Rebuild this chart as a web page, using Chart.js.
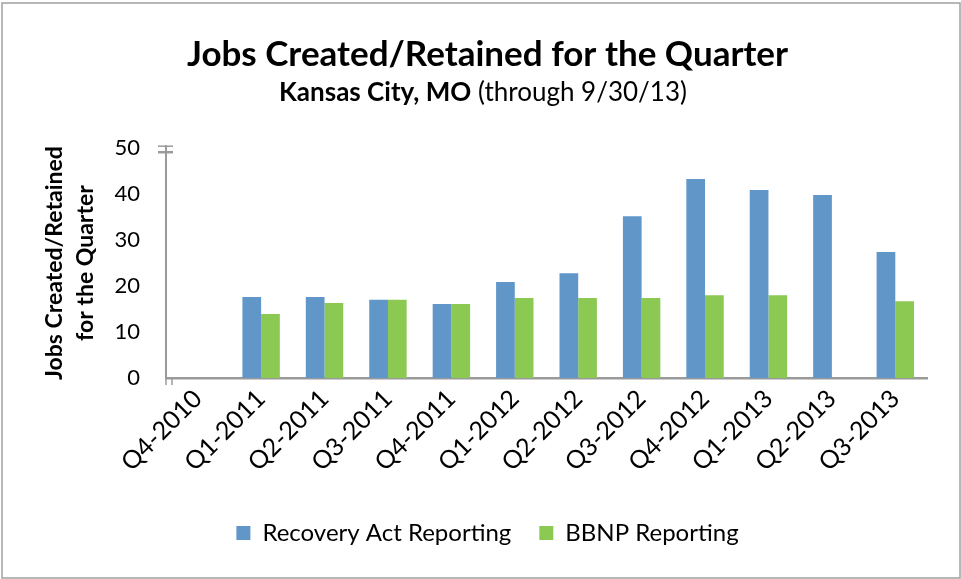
<!DOCTYPE html>
<html><head><meta charset="utf-8">
<script src="https://cdn.jsdelivr.net/npm/chart.js@4/dist/chart.umd.min.js"></script>
<style>html,body{margin:0;padding:0;background:#fff}#wrap{width:961px;height:579px;position:relative}</style>
</head><body><div id="wrap"><canvas id="c" width="961" height="579"></canvas></div>
<script>
const categories = ['Q4-2010','Q1-2011','Q2-2011','Q3-2011','Q4-2011','Q1-2012','Q2-2012','Q3-2012','Q4-2012','Q1-2013','Q2-2013','Q3-2013'];
const recoveryAct = [null, 17.6, 17.6, 17.0, 16.1, 20.9, 22.8, 35.2, 43.3, 40.9, 39.8, 27.4];
const bbnp = [null, 13.9, 16.3, 17.0, 16.1, 17.4, 17.4, 17.4, 18.0, 18.0, null, 16.7];
const yTicks = [0, 10, 20, 30, 40, 50];
const titleText = 'Jobs Created/Retained for the Quarter';
const subtitleBold = 'Kansas City, MO';
const subtitleNormal = ' (through 9/30/13)';
const yTitle = ['Jobs Created/Retained', 'for the Quarter'];

const FONT = 'Lato, "Open Sans", sans-serif';

const decor = {
  id: 'decor',
  beforeDraw(chart) {
    const ctx = chart.ctx;
    ctx.save();
    ctx.fillStyle = '#fff';
    ctx.fillRect(0, 0, chart.width, chart.height);
    ctx.strokeStyle = '#a0a0a0';
    ctx.lineWidth = 1.5;
    ctx.strokeRect(2, 3, chart.width - 3, chart.height - 4);
    ctx.restore();
  },
  afterDraw(chart) {
    const ctx = chart.ctx;
    const a = chart.chartArea;
    ctx.save();
    ctx.textBaseline = 'middle';
    ctx.fillStyle = '#000';
    ctx.font = 'bold 26px ' + FONT;
    const w1 = ctx.measureText(subtitleBold).width;
    ctx.font = '26px ' + FONT;
    const w2 = ctx.measureText(subtitleNormal).width;
    const x0 = 483 - (w1 + w2) / 2;
    ctx.textAlign = 'left';
    ctx.font = 'bold 26px ' + FONT;
    ctx.fillText(subtitleBold, x0, 93);
    ctx.font = '26px ' + FONT;
    ctx.fillText(subtitleNormal, x0 + w1, 93);
    ctx.strokeStyle = '#9a9a9a';
    ctx.lineWidth = 2;
    ctx.beginPath();
    ctx.moveTo(a.left, a.top);
    ctx.lineTo(a.left, a.top - 3);
    ctx.stroke();
    ctx.lineWidth = 1.5;
    ctx.beginPath();
    ctx.moveTo(a.left - 8, a.top - 2);
    ctx.lineTo(a.left + 7, a.top - 2);
    ctx.stroke();
    ctx.lineWidth = 2.5;
    ctx.beginPath();
    ctx.moveTo(a.left - 8, a.top + 4);
    ctx.lineTo(a.left + 7, a.top + 4);
    ctx.stroke();
    ctx.lineWidth = 1.5;
    ctx.beginPath();
    ctx.moveTo(a.left, a.bottom);
    ctx.lineTo(a.left, a.bottom + 7);
    ctx.moveTo(a.left + 6, a.bottom);
    ctx.lineTo(a.left + 6, a.bottom + 7);
    ctx.stroke();
    ctx.restore();
  }
};

new Chart(document.getElementById('c'), {
  type: 'bar',
  data: {
    labels: categories,
    datasets: [
      { label: 'Recovery Act Reporting', data: recoveryAct, backgroundColor: '#6096C8' },
      { label: 'BBNP Reporting', data: bbnp, backgroundColor: '#8BC953' }
    ]
  },
  options: {
    responsive: false,
    devicePixelRatio: 1,
    animation: false,
    categoryPercentage: 0.59,
    barPercentage: 1.0,
    layout: { padding: { top: 0, left: 14, right: 0, bottom: 24 } },
    plugins: {
      title: {
        display: true, text: titleText, color: '#000',
        font: { family: FONT, size: 35, weight: 'bold' },
        padding: { top: 34, bottom: 2 }
      },
      subtitle: {
        display: true, text: subtitleBold + subtitleNormal, color: 'rgba(0,0,0,0)',
        font: { family: FONT, size: 26 },
        padding: { top: 0, bottom: 39 }
      },
      legend: {
        position: 'bottom',
        labels: {
          color: '#000', boxWidth: 14, boxHeight: 14, padding: 28,
          font: { family: FONT, size: 24 }
        }
      },
      tooltip: { enabled: false }
    },
    scales: {
      x: {
        grid: { display: false, drawTicks: false },
        border: { color: '#9a9a9a', width: 2.5 },
        ticks: { color: '#000', font: { family: FONT, size: 25 }, maxRotation: 45, minRotation: 45, padding: 6 },
        afterFit(s) { s.height = 115; }
      },
      y: {
        min: 0, max: 50,
        afterBuildTicks(s) { s.ticks = yTicks.map(v => ({ value: v })); },
        grid: { display: false, drawTicks: false },
        border: { color: '#9a9a9a', width: 2 },
        ticks: { color: '#000', font: { family: FONT, size: 22 }, padding: 26 },
        title: {
          display: true, text: yTitle, color: '#000',
          font: { family: FONT, size: 23, weight: 'bold', lineHeight: 1.35 },
          padding: { top: 25, bottom: 0 }
        },
        afterFit(s) { s.width = 152; }
      },
      yRight: {
        position: 'right', display: true,
        grid: { display: false, drawTicks: false },
        border: { display: false },
        ticks: { display: false },
        afterFit(s) { s.width = 34; }
      }
    }
  },
  plugins: [decor]
});
</script></body></html>
